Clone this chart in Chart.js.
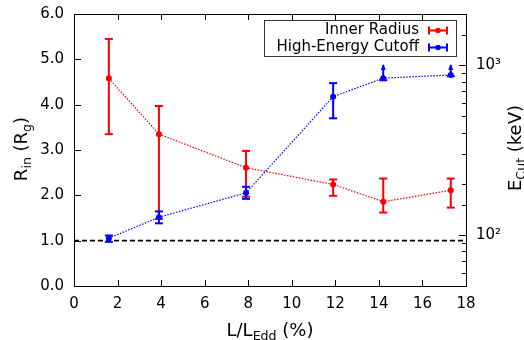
<!DOCTYPE html>
<html><head><meta charset="utf-8">
<script src="https://cdn.jsdelivr.net/npm/chart.js@4/dist/chart.umd.min.js"></script>
<style>html,body{margin:0;padding:0;background:#fff;}#wrap{width:524px;height:340px;}</style>
</head><body><div id="wrap"><canvas id="c" width="524" height="340"></canvas></div>
<script>
// ---- data ----
const lum = [1.6, 3.9, 7.9, 11.9, 14.2, 17.3];           // L/LEdd (%)
const rin = [4.58, 3.35, 2.61, 2.24, 1.86, 2.11];         // Rin (Rg)
const rinLo = [3.35, 1.48, 1.97, 1.99, 1.62, 1.73];
const rinHi = [5.45, 3.97, 2.98, 2.35, 2.37, 2.37];
const ecut = [95.6, 127, 177, 652, 838, 875];              // Ecut (keV)
const ecutLo = [91, 117, 163, 486, 815, 860];
const ecutHi = [99.2, 137.5, 192, 783, 1000, 1000];
const ecutLowerLimit = [false, false, false, false, true, true];
const refX = [0, 18];
const refLevel = [1.0, 1.0];
const xTickValues = [0, 2, 4, 6, 8, 10, 12, 14, 16, 18];
const yTickValues = [0, 1, 2, 3, 4, 5, 6];
const y1MajorTicks = [100, 1000];
const seriesNames = ['Inner Radius', 'High-Energy Cutoff'];

const RED = '#ff0000', BLUE = '#0000ff';
const FONT = '"DejaVu Sans", "Liberation Sans", sans-serif';

function pts(xs, ys) { return xs.map((x, i) => ({x: x, y: ys[i]})); }

function drawErrBars(chart, xs, lo, hi, axisId, color, limits) {
  const ctx = chart.ctx, sx = chart.scales.x, sy = chart.scales[axisId];
  ctx.save();
  ctx.strokeStyle = color; ctx.fillStyle = color; ctx.lineWidth = 2; ctx.setLineDash([]);
  xs.forEach((x, i) => {
    const px = sx.getPixelForValue(x);
    const p1 = sy.getPixelForValue(lo[i]), p2 = sy.getPixelForValue(hi[i]);
    ctx.beginPath(); ctx.moveTo(px, p1); ctx.lineTo(px, p2); ctx.stroke();
    ctx.beginPath(); ctx.moveTo(px - 4, p1); ctx.lineTo(px + 4, p1); ctx.stroke();
    if (limits && limits[i]) {
      ctx.beginPath(); ctx.moveTo(px, p2 - 1); ctx.lineTo(px - 2.5, p2 + 5); ctx.lineTo(px + 2.5, p2 + 5); ctx.closePath(); ctx.fill();
    } else {
      ctx.beginPath(); ctx.moveTo(px - 4, p2); ctx.lineTo(px + 4, p2); ctx.stroke();
    }
  });
  ctx.restore();
}

function drawRich(ctx, parts, size, x, y, align) {
  let w = 0;
  parts.forEach(p => { ctx.font = (p[1] ? size * 0.7 : size) + 'px ' + FONT; w += ctx.measureText(p[0]).width; });
  let cx = align === 'center' ? x - w / 2 : x;
  ctx.textBaseline = 'alphabetic'; ctx.textAlign = 'left';
  parts.forEach(p => {
    ctx.font = (p[1] ? size * 0.7 : size) + 'px ' + FONT;
    ctx.fillText(p[0], cx, y + (p[1] ? size * 0.22 : 0));
    cx += ctx.measureText(p[0]).width;
  });
}

function noPad(s) { s.paddingTop = 0; s.paddingBottom = 0; s.paddingLeft = 0; s.paddingRight = 0; }

const decor = {
  id: 'decor',
  afterDatasetDraw(chart, args) {
    if (args.index === 1) drawErrBars(chart, lum, rinLo, rinHi, 'y', RED, null);
    if (args.index === 2) drawErrBars(chart, lum, ecutLo, ecutHi, 'y1', BLUE, ecutLowerLimit);
  },
  afterDraw(chart) {
    const ctx = chart.ctx, a = chart.chartArea;
    const sx = chart.scales.x, sy = chart.scales.y, sy1 = chart.scales.y1;
    ctx.save();
    ctx.strokeStyle = '#000'; ctx.lineWidth = 1; ctx.setLineDash([]);
    ctx.strokeRect(Math.round(a.left) + 0.5, Math.round(a.top) + 0.5, Math.round(a.right - a.left), Math.round(a.bottom - a.top));
    ctx.beginPath();
    xTickValues.forEach(v => {
      const px = Math.round(sx.getPixelForValue(v)) + 0.5;
      ctx.moveTo(px, a.bottom); ctx.lineTo(px, a.bottom - 6);
      ctx.moveTo(px, a.top); ctx.lineTo(px, a.top + 6);
    });
    yTickValues.forEach(v => {
      const py = Math.round(sy.getPixelForValue(v)) + 0.5;
      ctx.moveTo(a.left, py); ctx.lineTo(a.left + 7, py);
    });
    sy1.ticks.forEach(t => {
      const py = Math.round(sy1.getPixelForValue(t.value)) + 0.5;
      const len = y1MajorTicks.includes(t.value) ? 7 : 4;
      ctx.moveTo(a.right, py); ctx.lineTo(a.right - len, py);
    });
    ctx.stroke();

    // legend
    const lx0 = 264.5, ly0 = 20.5, lw = 192, lh = 36;
    ctx.fillStyle = '#fff'; ctx.fillRect(lx0, ly0, lw, lh);
    ctx.strokeStyle = '#333'; ctx.lineWidth = 1; ctx.strokeRect(lx0, ly0, lw, lh);
    const rows = [[seriesNames[0], RED, 30.5], [seriesNames[1], BLUE, 47.5]];
    rows.forEach(r => {
      ctx.fillStyle = '#000'; ctx.font = '15px ' + FONT; ctx.textAlign = 'right'; ctx.textBaseline = 'middle';
      ctx.fillText(r[0], 419, r[2]);
      ctx.strokeStyle = r[1]; ctx.fillStyle = r[1]; ctx.lineWidth = 2;
      ctx.beginPath();
      ctx.moveTo(428, r[2]); ctx.lineTo(448, r[2]);
      ctx.moveTo(429, r[2] - 4); ctx.lineTo(429, r[2] + 4);
      ctx.moveTo(447, r[2] - 4); ctx.lineTo(447, r[2] + 4);
      ctx.stroke();
      ctx.beginPath(); ctx.arc(438, r[2], 2.8, 0, Math.PI * 2); ctx.fill();
    });

    // axis titles
    ctx.fillStyle = '#000';
    drawRich(ctx, [['L/L', false], ['Edd', true], [' (%)', false]], 18, 270, 336, 'center');
    ctx.save(); ctx.translate(27, 149); ctx.rotate(-Math.PI / 2);
    drawRich(ctx, [['R', false], ['in', true], [' (R', false], ['g', true], [')', false]], 18, 0, 0, 'center');
    ctx.restore();
    ctx.save(); ctx.translate(521, 148); ctx.rotate(-Math.PI / 2);
    drawRich(ctx, [['E', false], ['Cut', true], [' (keV)', false]], 18, 0, 0, 'center');
    ctx.restore();
    ctx.restore();
  }
};

new Chart(document.getElementById('c'), {
  type: 'line',
  data: {
    datasets: [
      { label: 'ref', data: pts(refX, refLevel), yAxisID: 'y', borderColor: '#000', borderWidth: 1.8,
        borderDash: [5, 3], pointRadius: 0, order: 3 },
      { label: seriesNames[0], data: pts(lum, rin), yAxisID: 'y', borderColor: RED, backgroundColor: RED,
        borderWidth: 1.2, borderDash: [1.5, 1.5], pointRadius: 3, pointBorderWidth: 0, order: 2 },
      { label: seriesNames[1], data: pts(lum, ecut), yAxisID: 'y1', borderColor: BLUE, backgroundColor: BLUE,
        borderWidth: 1.2, borderDash: [1.5, 1.5], pointRadius: 3, pointBorderWidth: 0, order: 1 }
    ]
  },
  options: {
    responsive: false, devicePixelRatio: 1, animation: false,
    layout: { padding: { top: 14, left: 0, right: 0, bottom: 0 } },
    plugins: { legend: { display: false }, tooltip: { enabled: false } },
    scales: {
      x: { type: 'linear', min: 0, max: 18,
        afterFit: s => { s.height = 54; noPad(s); },
        afterBuildTicks: s => { s.ticks = xTickValues.map(v => ({value: v})); },
        grid: { display: false, drawTicks: false }, border: { display: false },
        ticks: { color: '#000', font: { family: FONT, size: 15 }, padding: 9, maxRotation: 0, autoSkip: false } },
      y: { type: 'linear', position: 'left', min: 0, max: 6,
        afterFit: s => { s.width = 74; noPad(s); },
        afterBuildTicks: s => { s.ticks = yTickValues.map(v => ({value: v})); },
        grid: { display: false, drawTicks: false }, border: { display: false },
        ticks: { color: '#000', font: { family: FONT, size: 15 }, padding: 10, autoSkip: false,
          callback: v => Number(v).toFixed(1) } },
      y1: { type: 'logarithmic', position: 'right', min: 50, max: 2000,
        afterFit: s => { s.width = 58; noPad(s); },
        grid: { display: false, drawTicks: false }, border: { display: false },
        ticks: { color: '#000', font: { family: FONT, size: 15 }, padding: 10, autoSkip: false,
          callback: v => v === 100 ? '10²' : (v === 1000 ? '10³' : '') } }
    }
  },
  plugins: [decor]
});
</script></body></html>
